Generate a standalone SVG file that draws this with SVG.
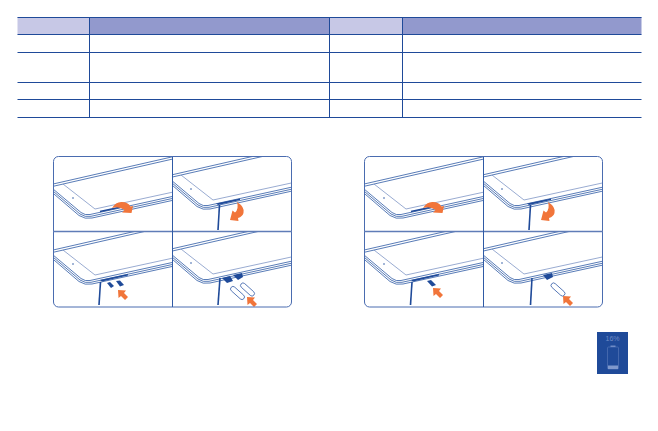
<svg xmlns="http://www.w3.org/2000/svg" xmlns:xlink="http://www.w3.org/1999/xlink" width="658" height="431" viewBox="0 0 658 431">
<style>
.t{stroke:#1f4a99;fill:none}
.h{stroke-width:1.2}
.v{stroke-width:1}
.e{stroke:#2f5aa5;fill:none;stroke-width:.8}
.s{stroke:#6d87bd;fill:none;stroke-width:.7}
.o{fill:#f1753a}
.d{fill:#1f4a99}
.k{stroke:#1f4a99;stroke-width:1.6;fill:none}
.c{stroke:#3d63ab;stroke-width:.8;fill:#fff}
.p{fill:none;stroke:#4a6cb0;stroke-width:1}
</style>
<defs>
<clipPath id="cA"><rect x="53" y="157" width="119.5" height="74"/></clipPath>
<clipPath id="cB"><rect x="172.5" y="157" width="119.5" height="74"/></clipPath>
<clipPath id="cC"><rect x="53" y="232" width="119.5" height="75"/></clipPath>
<clipPath id="cD"><rect x="172.5" y="232" width="119.5" height="75"/></clipPath>
<g id="tablet">
<path class="e" d="M40,187 L300,127.700"/>
<path class="e" d="M40,189.300 L300,130"/>
<path class="s" d="M63,184 L95,209 L300,164.500"/>
<path class="e" d="M40,178 L81,212.500 Q85,215.500 90,214.500 L300,168.500"/>
<path class="e" d="M40,180 L80,214 Q85,217.500 91,216.300 L300,170.500"/>
<path class="e" d="M40,182 L79,215.500 Q85,219.500 92,218 L300,172.500"/>
<circle cx="73" cy="198" r=".8" fill="#2f5aa5"/>
</g>
<polygon id="up" class="o" points="0,0 8,.5 6,3 10,7 7,10 3,6 .5,8"/>
<path id="flip" class="o" d="M112,208 Q116,201.500 122,202 Q128,202 130.500,206.500 L133,206 L131.500,213 L122,212.500 L124.500,210 Q119,206 112,208Z"/>
<path id="turn" class="o" d="M237,202 Q245,207 243.500,213 Q242.500,216.500 238,218 L238.500,221 L230,220 L232.500,210.500 L235,212.500 Q239,209 237,202Z"/>
</defs>
<g id="table">
<rect x="17.500" y="17" width="71.500" height="17.500" fill="#c7c8e6"/>
<rect x="89.500" y="17" width="239.500" height="17.500" fill="#9299cd"/>
<rect x="329" y="17" width="73" height="17.500" fill="#c7c8e6"/>
<rect x="402" y="17" width="239.500" height="17.500" fill="#9299cd"/>
<path class="t h" d="M17.500,17.500H641.500M17.500,34.500H641.500M17.500,52.500H641.500M17.500,82.500H641.500M17.500,99.500H641.500M17.500,117.500H641.500"/>
<path class="t v" d="M89.500,17V117.500M329.500,17V117.500M402.500,17V117.500"/>
</g>
<g id="panel-left">
<g clip-path="url(#cA)"><use xlink:href="#tablet"/>
<path class="k" d="M100,211.500L128,205.500"/>
<use xlink:href="#flip"/></g>
<g clip-path="url(#cB)"><use xlink:href="#tablet" transform="translate(118,-9)"/>
<path class="k" d="M219.500,205L218,230"/>
<path class="d" d="M216,203.500L240,198.500V200L218,205Z"/>
<use xlink:href="#turn"/></g>
<g clip-path="url(#cC)"><use xlink:href="#tablet" transform="translate(0,66)"/>
<path class="k" d="M100.500,282L99,305"/>
<path class="d" d="M100,280L128,274V275.500L102,281.500Z"/>
<polygon class="d" points="107,283 110,282 114,286 111,288"/>
<polygon class="d" points="116,281 120,280.500 124,285 120,286.500"/>
<use xlink:href="#up" transform="translate(118,290)"/></g>
<g clip-path="url(#cD)"><use xlink:href="#tablet" transform="translate(118,65)"/>
<path class="k" d="M220,278L218,305"/>
<polygon class="d" points="222,278 230,276 233,281 227,283"/>
<polygon class="d" points="233,275 242,273 243,277 238,280"/>
<rect class="c" x="229" y="290.500" width="17" height="5" rx="2.500" transform="rotate(42 237.500 293)"/>
<rect class="c" x="239" y="287" width="17" height="5" rx="2.500" transform="rotate(42 247.500 289.500)"/>
<use xlink:href="#up" transform="translate(247,297)"/></g>
<rect class="p" x="53.500" y="156.500" width="238" height="150.500" rx="5"/>
<path d="M53,231.500H292" stroke="#5f7cb7" stroke-width="1.500"/>
<path d="M172.500,157V307" stroke="#2f5aa5" stroke-width="1"/>
</g>
<g id="panel-right">
<g transform="translate(311,0)">
<g clip-path="url(#cA)"><use xlink:href="#tablet"/>
<path class="k" d="M100,211.500L128,205.500"/>
<use xlink:href="#flip"/></g>
<g clip-path="url(#cB)"><use xlink:href="#tablet" transform="translate(118,-9)"/>
<path class="k" d="M219.500,205L218,230"/>
<path class="d" d="M216,203.500L240,198.500V200L218,205Z"/>
<use xlink:href="#turn"/></g>
<g clip-path="url(#cC)"><use xlink:href="#tablet" transform="translate(0,66)"/>
<path class="k" d="M101,282L99.500,305"/>
<path class="d" d="M100,280L128,274V275.500L102,281.500Z"/>
<polygon class="d" points="116,281 120,280 125,285 121,286.500"/>
<use xlink:href="#up" transform="translate(122,288)"/></g>
<g clip-path="url(#cD)"><use xlink:href="#tablet" transform="translate(118,65)"/>
<path class="k" d="M221,278L219.500,305"/>
<polygon class="d" points="232,275 241,273 242,277 236,280"/>
<rect class="c" x="238.500" y="287" width="17" height="5" rx="2.500" transform="rotate(42 247 289.500)"/>
<use xlink:href="#up" transform="translate(252,296)"/></g>
<rect class="p" x="53.500" y="156.500" width="238" height="150.500" rx="5"/>
<path d="M53,231.500H292" stroke="#5f7cb7" stroke-width="1.500"/>
<path d="M172.500,157V307" stroke="#2f5aa5" stroke-width="1"/>
</g>
</g>
<g id="battery">
<rect x="597" y="332" width="31" height="42" fill="#1f4a99"/>
<text x="612.500" y="341" font-family="'Liberation Sans',sans-serif" font-size="7" fill="#6f8bc6" text-anchor="middle">16%</text>
<rect x="607.500" y="347" width="11" height="22" rx="1" fill="none" stroke="#4c6fb3" stroke-width=".8"/>
<rect x="610.500" y="345.500" width="5" height="1.500" fill="#6f8bc6"/>
<rect x="608" y="365.500" width="10" height="3.500" fill="#7f98cc"/>
</g>
</svg>
